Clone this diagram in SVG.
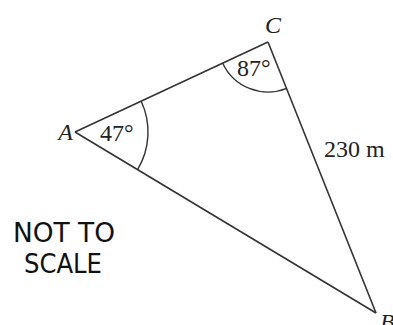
<svg xmlns="http://www.w3.org/2000/svg" width="393" height="325" viewBox="0 0 393 325">
<style>
.edge{stroke:#333;stroke-width:1.6;fill:none;stroke-linejoin:miter}
.arc{stroke:#333;stroke-width:1.4;fill:none}
.lbl{font-family:"Liberation Serif",serif;font-size:24px;fill:#222}
.it{font-style:italic}
.note{font-family:"DejaVu Sans",sans-serif;font-size:27px;fill:#111}
</style>
<rect width="393" height="325" fill="#fff"/>
<g id="connectors">
<path class="edge" d="M75,132 L268,42"/>
<path class="edge" d="M268,42 L376,313"/>
<path class="edge" d="M75,132 L376,313"/>
</g>
<g id="A">
<path class="arc" d="M141.2,101.2 A73,73 0 0 1 137.6,169.6"/>
<text class="lbl it" x="73" y="140" text-anchor="end">A</text>
<text class="lbl" x="100" y="141">47°</text>
</g>
<g id="C">
<path class="arc" d="M222.5,62.7 A50,50 0 0 0 286.7,88.4"/>
<text class="lbl it" x="265" y="33">C</text>
<text class="lbl" x="237" y="76">87°</text>
</g>
<g id="B">
<text class="lbl it" x="380" y="330">B</text>
</g>
<g id="side">
<text class="lbl" x="324" y="157">230 m</text>
</g>
<g id="note">
<text class="note" x="13" y="242" textLength="102" lengthAdjust="spacingAndGlyphs">NOT TO</text>
<text class="note" x="24" y="273" textLength="78" lengthAdjust="spacingAndGlyphs">SCALE</text>
</g>
</svg>
